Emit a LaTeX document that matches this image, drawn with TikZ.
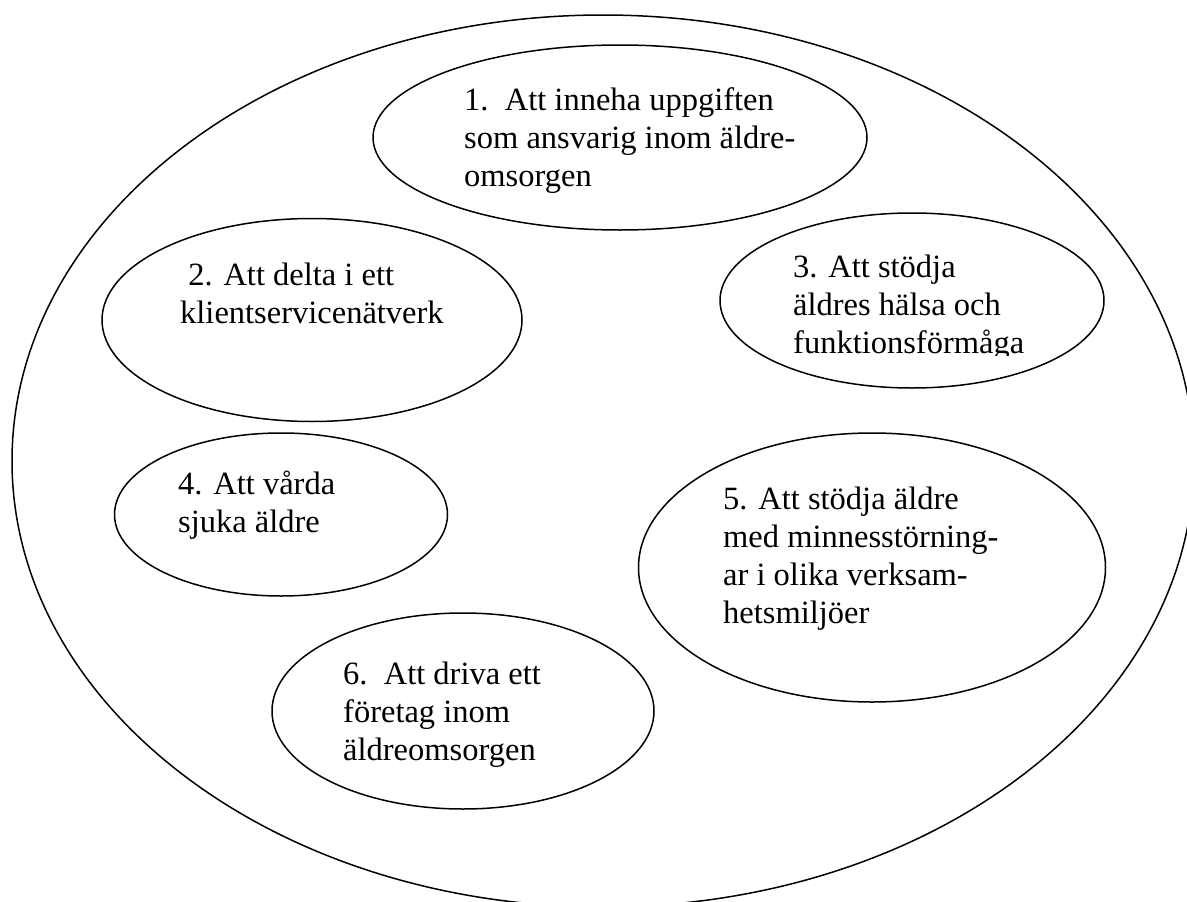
\documentclass[tikz,border=0pt]{standalone}
\usepackage{fontspec}
\setmainfont{Liberation Serif}
\usetikzlibrary{shapes.geometric}
\tikzset{
  ell/.style={draw, ellipse, line width=1.5pt, inner sep=0pt},
  lbl/.style={anchor=base west, inner sep=0pt, font=\fontsize{32.5}{38.3}\selectfont},
}
\newcommand{\stk}[1]{\vtop{\baselineskip=38.3pt\lineskiplimit=-100pt\halign{##\hfil\cr #1\crcr}}}
\begin{document}
\begin{tikzpicture}[x=1pt, y=-1pt]
\useasboundingbox (0,0) rectangle (1187,902);
\clip (0,0) rectangle (1187,902);
% outer ellipse
\node[ell, minimum width=1182pt, minimum height=892pt] (outer) at (603,461) {};
% inner ellipses
\node[ell, minimum width=494pt, minimum height=185pt] (e1) at (620,137.5) {};
\node[ell, minimum width=420pt, minimum height=203pt] (e2) at (312,320) {};
\node[ell, minimum width=384pt, minimum height=175pt] (e3) at (912,300.5) {};
\node[ell, minimum width=333pt, minimum height=163pt] (e4) at (281,514.5) {};
\node[ell, minimum width=467pt, minimum height=269pt] (e5) at (872,567.5) {};
\node[ell, minimum width=382pt, minimum height=196pt] (e6) at (463,711) {};
% labels
\node[lbl] (t1) at (464,110) {\stk{1.\ \ Att inneha uppgiften\cr som ansvarig inom äldre-\cr omsorgen}};
\node[lbl] (t2) at (180,285) {\stk{\ 2. Att delta i ett\cr klientservicenätverk}};
\begin{scope}
\clip (700,200) rectangle (1110,355);
\node[lbl] (t3) at (793,277) {\stk{3. Att stödja\cr äldres hälsa och\cr funktionsförmåga}};
\end{scope}
\node[lbl] (t4) at (178,494) {\stk{4. Att vårda\cr sjuka äldre}};
\node[lbl] (t5) at (723,509) {\stk{5. Att stödja äldre\cr med minnesstörning-\cr ar i olika verksam-\cr hetsmiljöer}};
\node[lbl] (t6) at (343,684) {\stk{6.\ \ Att driva ett\cr företag inom\cr äldreomsorgen}};
\end{tikzpicture}
\end{document}
